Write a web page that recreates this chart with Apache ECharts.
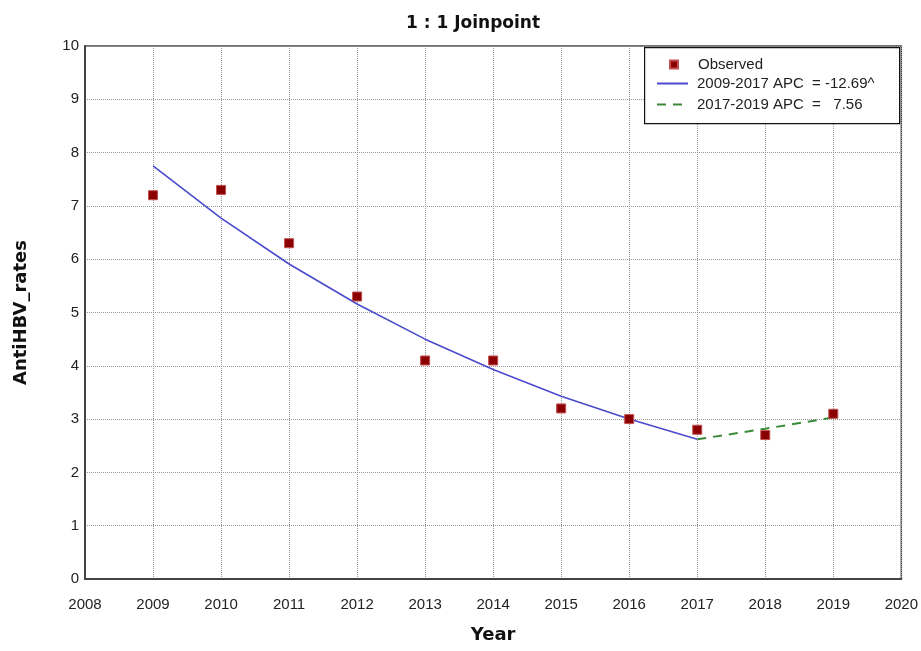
<!DOCTYPE html>
<html><head><meta charset="utf-8">
<script src="https://cdn.jsdelivr.net/npm/echarts@6/dist/echarts.min.js"></script>
<style>html,body{margin:0;padding:0;background:#fff}#c{width:921px;height:651px}</style>
</head><body><div id="c"></div>
<script>
var years = [2009, 2010, 2011, 2012, 2013, 2014, 2015, 2016, 2017, 2018, 2019];
var observed = [7.2, 7.3, 6.3, 5.3, 4.1, 4.1, 3.2, 3.0, 2.8, 2.7, 3.1];
var seg1Years = [2009, 2010, 2011, 2012, 2013, 2014, 2015, 2016, 2017];
var seg1Fit = [7.75, 6.77, 5.91, 5.16, 4.50, 3.93, 3.43, 3.00, 2.62];
var seg2Years = [2017, 2018, 2019];
var seg2Fit = [2.62, 2.82, 3.03];
var xTicks = [2008, 2009, 2010, 2011, 2012, 2013, 2014, 2015, 2016, 2017, 2018, 2019, 2020];
var yTicks = [0, 1, 2, 3, 4, 5, 6, 7, 8, 9, 10];
var names = ['Observed', '2009-2017 APC  = -12.69^', '2017-2019 APC  =   7.56'];

function pairs(xs, ys) { return xs.map(function (x, i) { return [x, ys[i]]; }); }

var chart = echarts.init(document.getElementById('c'), null, {renderer: 'canvas'});
var font = 'Liberation Sans';
chart.setOption({
  backgroundColor: '#fff',
  animation: false,
  title: {
    text: '1 : 1 Joinpoint', left: 401, top: 10,
    textStyle: {fontFamily: 'DejaVu Sans', fontWeight: 'bold', fontSize: 17, color: '#111'}
  },
  grid: {left: 85, right: 17, top: 46, bottom: 72, show: true, borderColor: '#444', borderWidth: 1.5, backgroundColor: 'transparent'},
  xAxis: {
    type: 'value', min: xTicks[0], max: xTicks[xTicks.length - 1], interval: 1,
    name: 'Year', nameLocation: 'middle', nameGap: 47,
    nameTextStyle: {fontFamily: 'DejaVu Sans', fontWeight: 'bold', fontSize: 18, color: '#111'},
    axisLine: {lineStyle: {color: '#444', width: 2}},
    axisTick: {show: false},
    axisLabel: {margin: 18, fontFamily: font, fontSize: 15, color: '#222', formatter: function (v) { return String(v); }},
    splitLine: {show: true, lineStyle: {type: 'dotted', color: '#999', width: 1}}
  },
  yAxis: {
    type: 'value', min: yTicks[0], max: yTicks[yTicks.length - 1], interval: 1,
    name: 'AntiHBV_rates', nameLocation: 'middle', nameGap: 55,
    nameTextStyle: {fontFamily: 'DejaVu Sans', fontWeight: 'bold', fontSize: 18, color: '#111'},
    axisLine: {show: true, lineStyle: {color: '#444', width: 2}},
    axisTick: {show: false},
    axisLabel: {margin: 6, fontFamily: font, fontSize: 15, color: '#222'},
    splitLine: {show: true, lineStyle: {type: 'dotted', color: '#999', width: 1}}
  },
  graphic: [{
    type: 'rect', z: 50, left: 644, top: 47,
    shape: {width: 255, height: 76},
    style: {fill: '#fff', stroke: '#111', lineWidth: 1.2}
  }],
  legend: [{
    z: 60, left: 664, top: 52, orient: 'vertical',
    data: [{name: names[0], icon: 'rect'}],
    itemWidth: 8, itemHeight: 8,
    textStyle: {fontFamily: font, fontSize: 15, color: '#222', padding: [0, 0, 0, 15]}
  }, {
    z: 60, left: 651, top: 71, orient: 'vertical', itemGap: 6,
    data: [names[1], names[2]],
    itemWidth: 31, itemHeight: 12,
    itemStyle: {opacity: 0},
    textStyle: {fontFamily: font, fontSize: 15, color: '#222', padding: [0, 0, 0, 4]}
  }],
  series: [{
    name: names[1], type: 'line', data: pairs(seg1Years, seg1Fit),
    symbol: 'none', lineStyle: {color: '#4a4acc', width: 1.6}, itemStyle: {color: '#4a4acc'}, z: 3
  }, {
    name: names[2], type: 'line', data: pairs(seg2Years, seg2Fit),
    symbol: 'none', lineStyle: {color: '#3a8a3a', width: 2, type: [9, 7]}, itemStyle: {color: '#3a8a3a'}, z: 3
  }, {
    name: names[0], type: 'scatter', data: pairs(years, observed),
    symbol: 'rect', symbolSize: 9,
    itemStyle: {color: '#8b0000', borderColor: '#c05050', borderWidth: 1, opacity: 1}, z: 4
  }]
});
</script></body></html>
